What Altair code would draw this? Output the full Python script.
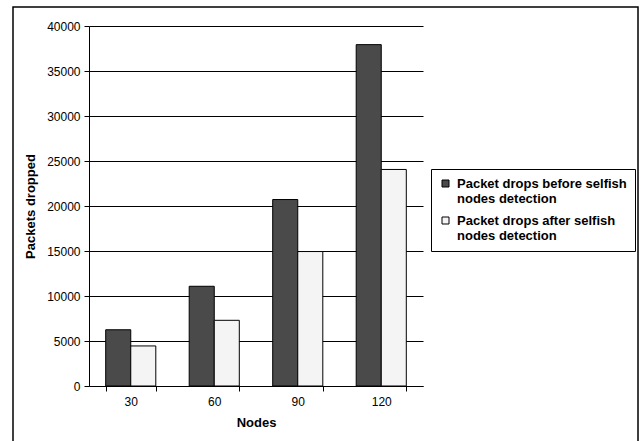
import altair as alt
import pandas as pd

nodes = ["30", "60", "90", "120"]
before = [6250, 11080, 20720, 37930]
after = [4450, 7300, 14940, 24060]
series = ["Packet drops before selfish nodes detection",
          "Packet drops after selfish nodes detection"]

rows = []
for n, b, a in zip(nodes, before, after):
    rows.append({"Nodes": n, "Series": series[0], "Value": b})
    rows.append({"Nodes": n, "Series": series[1], "Value": a})
df = pd.DataFrame(rows)

FONT = "Liberation Sans"

bars = alt.Chart(df).mark_bar(stroke="black", strokeWidth=1).encode(
    x=alt.X("Nodes:N", sort=nodes, title="Nodes",
            scale=alt.Scale(paddingInner=0.4, paddingOuter=0.2),
            axis=alt.Axis(labelAngle=0, tickBand="extent", domainColor="black",
                          tickColor="black", tickSize=5, labelPadding=5,
                          titlePadding=9, grid=False)),
    xOffset=alt.XOffset("Series:N", sort=series),
    y=alt.Y("Value:Q", title="Packets dropped",
            scale=alt.Scale(domain=[0, 40000]),
            axis=alt.Axis(values=list(range(0, 40001, 5000)), format="d",
                          tickColor="black", tickSize=5, domainColor="black",
                          gridColor="black", gridOpacity=1, labelPadding=4,
                          titlePadding=9)),
    fill=alt.Fill("Series:N", sort=series,
                  scale=alt.Scale(domain=series, range=["#4a4a4a", "#f4f4f4"]),
                  legend=alt.Legend(title=None, orient="none", legendX=342, legendY=143,
                                    symbolType="square", symbolSize=49,
                                    symbolStrokeColor="black", symbolStrokeWidth=1,
                                    labelFont=FONT, labelFontSize=13, labelFontWeight="bold",
                                    labelColor="black", labelLimit=300,
                                    labelExpr="split(replace(datum.label, ' nodes', '|nodes'), '|')",
                                    strokeColor="black", padding=8, rowPadding=8,
                                    labelOffset=5)),
)

border = alt.Chart(pd.DataFrame({"a": [0]})).mark_rect(
    fill=None, stroke="black", strokeWidth=1.5, clip=False
).encode(x=alt.value(-76), x2=alt.value(549), y=alt.value(-19), y2=alt.value(440))

chart = alt.layer(bars, border).properties(
    width=334, height=360,
    autosize=alt.AutoSizeParams(type="none"),
    padding={"left": 89, "top": 26, "right": 218, "bottom": 55},
    background="white",
).configure_view(stroke=None).configure_axis(
    labelFont=FONT, titleFont=FONT, labelFontSize=12, titleFontSize=13,
    labelColor="black", titleColor="black", titleFontWeight="bold"
)

chart.save("out.html", embed_options={"renderer": "svg", "actions": False})
